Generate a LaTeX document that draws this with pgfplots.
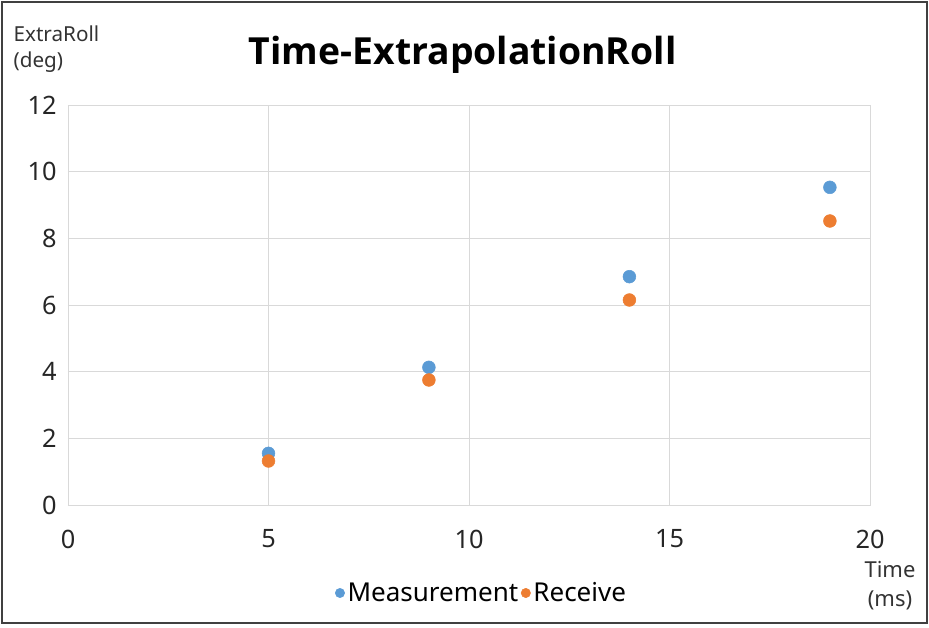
\documentclass[border=0pt]{standalone}
\usepackage{fontspec}
\setmainfont{Noto Sans}
\newfontfamily\titlefont{Open Sans}
\usepackage{pgfplots}
\pgfplotsset{compat=1.18}
\definecolor{mblue}{HTML}{5B9BD5}
\definecolor{morange}{HTML}{ED7D31}
\definecolor{gridc}{HTML}{D9D9D9}
\begin{document}
\begin{tikzpicture}
\path[use as bounding box] (0,0) rectangle (696.75pt,471pt);
\begin{axis}[
  at={(51pt,92.25pt)}, anchor=south west,
  scale only axis, width=601.5pt, height=300pt,
  xmin=0, xmax=20, ymin=0, ymax=12,
  xtick={0,5,10,15,20}, ytick={0,2,...,12},
  grid=major, major grid style={gridc, line width=0.6pt},
  axis line style={gridc, line width=0.6pt},
  major tick length=0pt,
  /pgf/number format/assume math mode=true,
  tick label style={font=\fontsize{19}{21}\selectfont, text=black!85},
  yticklabel style={xshift=-5pt},
  xticklabel style={yshift=-15pt},
  legend style={at={(0.516,-0.22)}, anchor=center, draw=none, fill=none,
    font=\fontsize{19.5}{22}\selectfont, legend columns=2,
    /tikz/every even column/.append style={column sep=0pt},
    inner sep=0pt},
  legend cell align=left,
  legend image code/.code={\draw[#1] (0.25em,0pt) circle (3.5pt);},
]
\addplot[only marks, mark=*, mark size=4.8pt, color=mblue, fill=mblue]
  coordinates {(5,1.55) (9,4.13) (14,6.85) (19,9.53)};
\addlegendentry{Measurement}
\addplot[only marks, mark=*, mark size=4.8pt, color=morange, fill=morange]
  coordinates {(5,1.32) (9,3.75) (14,6.15) (19,8.52)};
\addlegendentry{Receive}
\end{axis}
\node[font=\titlefont\bfseries\fontsize{28}{32}\selectfont] at (347pt,430pt) {Time-ExtrapolationRoll};
\node[anchor=north west, align=left, font=\fontsize{15.5}{20}\selectfont, text=black!80, inner sep=0pt] at (10pt,452pt) {ExtraRoll\\(deg)};
\node[align=center, font=\fontsize{16.5}{22}\selectfont, text=black!80, inner sep=0pt] at (667.5pt,32pt) {Time\\(ms)};
\draw[line width=1.5pt, color=black!75] (1.5pt,3.5pt) rectangle (695pt,469.5pt);
\end{tikzpicture}
\end{document}
